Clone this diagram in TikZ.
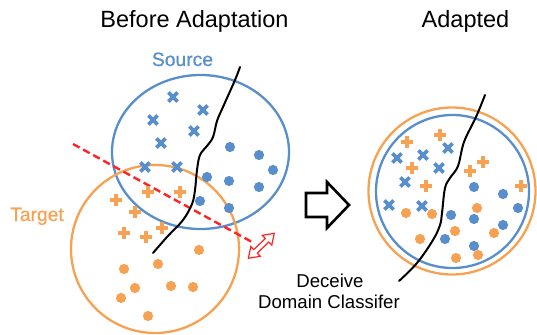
\documentclass[tikz,border=0pt]{standalone}
\usepackage{fontspec}
\setmainfont{Liberation Sans}
\newfontfamily\heavysans[FakeBold=0.6]{Liberation Sans}
\definecolor{srcblue}{RGB}{88,142,204}
\definecolor{tgtorange}{RGB}{246,162,82}
\definecolor{lineRed}{RGB}{255,36,36}
\tikzset{
  ring/.style={line width=2.3pt},
  boundary/.style={line width=2pt, black, line cap=round},
  crossmk/.pic={\draw[line width=3.6pt] (-4.6,-4.6) -- (4.6,4.6) (-4.6,4.6) -- (4.6,-4.6);},
  plusmk/.pic={\draw[line width=3.6pt] (-6,0) -- (6,0) (0,-6) -- (0,6);},
  title/.style={font=\fontsize{23.5}{28}\selectfont, anchor=base},
  lbl/.style={font=\heavysans\fontsize{19.3}{23}\selectfont, anchor=base},
  note/.style={font=\fontsize{18.6}{21}\selectfont, anchor=base},
}
\begin{document}
\begin{tikzpicture}[x=1pt, y=-1pt]
\useasboundingbox (0,0) rectangle (537,334);

% ---------- before adaptation ----------
\node[title] (tBefore) at (194.5,28) {Before Adaptation};
\node[lbl, text=srcblue] (lSource) at (182.5,66) {Source};
\node[lbl, text=tgtorange] (lTarget) at (37,221) {Target};

\draw[ring, srcblue] (200.5,152) ellipse [x radius=88.5, y radius=77];
\draw[ring, tgtorange] (155,249) circle [radius=84];

% domain classifier boundary
\draw[lineRed, line width=2.4pt, dash pattern=on 7.5pt off 4pt] (73,144) -- (252,242);
% domain distance indicator
\begin{scope}[shift={(261.3,245.8)}, rotate=44]
  \draw[lineRed, line width=1.2pt, fill=white, line join=miter]
    (18,0) -- (8,6.8) -- (8,2.5) -- (-8,2.5) -- (-8,6.8) -- (-18,0)
    -- (-8,-6.8) -- (-8,-2.5) -- (8,-2.5) -- (8,-6.8) -- cycle;
\end{scope}

% label classifier boundary
\draw[boundary] plot[smooth, tension=0.6] coordinates {
  (240,67) (235,80) (223,107) (217,121) (213,137) (207,146) (200,155)
  (197,170) (195,190) (192,204) (183,220) (167,237) (153,253)};

% source samples
\foreach \p in {(173,97),(203,110),(153,120),(194,131),(161,143),(145,167),(177,167)}
  \pic[srcblue] at \p {crossmk};
\foreach \p in {(230,147),(259,155),(273,170),(207,177),(229,181),(259,187),(200,201),(229,208)}
  \fill[srcblue] \p circle [radius=5.1];

% target samples
\foreach \p in {(148,192),(180,192),(116,200),(135,212),(162,228),(124,233),(146,237)}
  \pic[tgtorange] at \p {plusmk};
\foreach \p in {(199,250),(124,269),(158,264),(135,288),(171,286),(193,287),(121,298),(148,316)}
  \fill[tgtorange] \p circle [radius=5.1];

% ---------- transition arrow ----------
\draw[black, line width=2.6pt, fill=white, line join=miter]
  (306,193) -- (327,193) -- (327,182) -- (349,205) -- (327,228) -- (327,217) -- (306,217) -- cycle;

% ---------- adapted ----------
\node[title] (tAdapted) at (465.5,28) {Adapted};

\draw[ring, tgtorange] (452,191) circle [radius=83.5];
\draw[ring, srcblue] (452.5,191.5) circle [radius=76.5];

\draw[boundary] plot[smooth, tension=0.6] coordinates {
  (485,95) (476,117) (464,142) (458,166) (450,178) (445,188)
  (442,213) (440,225) (433,240) (417,263) (399,281)};

\foreach \p in {(448,148),(423,155),(397,158),(439,168),(405,182),(389,205),(422,206)}
  \pic[srcblue] at \p {crossmk};
\foreach \p in {(474,187),(503,194),(518,208),(451,215),(474,219),(503,225),(445,239),(474,246)}
  \fill[srcblue] \p circle [radius=5.1];

\foreach \p in {(407,142),(440,135),(412,168),(426,186),(483,162),(470,171),(521,186)}
  \pic[tgtorange] at \p {plusmk};
\foreach \p in {(406,213),(432,214),(477,208),(455,231),(494,233),(420,239),(456,258),(478,255)}
  \fill[tgtorange] \p circle [radius=5.1];

\node[note] (nDeceive) at (330,287) {Deceive};
\node[note] (nDomain) at (329,308) {Domain Classifer};
\end{tikzpicture}
\end{document}
